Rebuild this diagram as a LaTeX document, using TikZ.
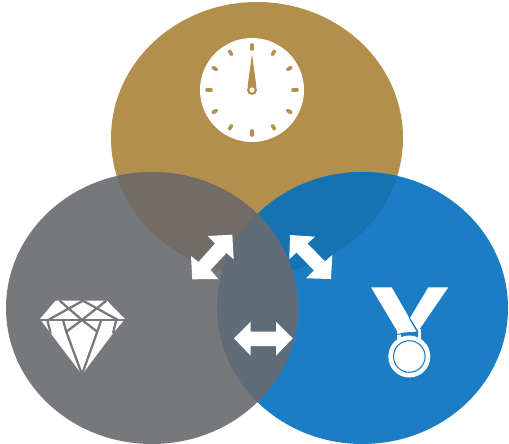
\documentclass[tikz,border=0pt]{standalone}
\usetikzlibrary{calc}
\definecolor{goldc}{HTML}{B38F4C}
\definecolor{grayc}{HTML}{77787B}
\definecolor{bluec}{HTML}{1B7DC4}
\definecolor{goldgray}{HTML}{726C66}
\definecolor{goldblue}{HTML}{1673B1}
\definecolor{grayblue}{HTML}{606C77}
\newcommand{\topc}{(257,138) ellipse [x radius=146,y radius=136]}
\newcommand{\leftc}{(152,308) ellipse [x radius=146,y radius=136]}
\newcommand{\rightc}{(362.5,308) ellipse [x radius=145.5,y radius=136]}
\tikzset{
  icon/.style={fill=white,draw=none},
  facet/.style={draw=grayc,line width=1.7pt,line cap=butt,line join=miter},
  tick/.style={draw=goldc,line width=2.7pt,line cap=round},
  bluerule/.style={draw=bluec,line width=0.8pt},
}
\begin{document}
\begin{tikzpicture}[x=0.75pt,y=-0.75pt]
\useasboundingbox (0,0) rectangle (509,443);
\fill[goldc] \topc;
\fill[bluec] \rightc;
\fill[grayc] \leftc;
\begin{scope}\clip \topc; \fill[goldgray] \leftc; \end{scope}
\begin{scope}\clip \topc; \fill[goldblue] \rightc; \end{scope}
\begin{scope}\clip \leftc; \fill[grayblue] \rightc; \end{scope}
% clock
\fill[icon] (252,90) circle [radius=52];
\foreach \a in {0,30,...,330}
  \draw[tick] ($(252,90)+(\a:41)$) -- ($(252,90)+(\a:45)$);
\fill[goldc] (252,54) -- (256.5,87) -- (247.5,87) -- cycle;
\fill[goldc] (252,90) circle [radius=5];
\fill[white] (252,90) circle [radius=2.6];
% double arrows
\fill[icon] (232.3,234.7) -- (233.7,259.3) -- (226.5,253) -- (210.5,270) -- (218.3,279) -- (192.3,279.3) -- (191,256) -- (198.5,262) -- (215,243.5) -- (207.7,236) -- cycle;
\fill[icon] (290,235) -- (315,236.7) -- (307.5,243.5) -- (325,261.5) -- (332.3,255) -- (331,279) -- (306,278.3) -- (314,270.5) -- (296.5,252.5) -- (289.3,259.3) -- cycle;
\fill[icon] (234,338.3) -- (250.7,321.7) -- (250.7,331.5) -- (276,331.5) -- (276,321.7) -- (292.7,338.3) -- (276,355.7) -- (276,346) -- (250.7,346) -- (250.7,355.7) -- cycle;
% diamond
\fill[icon] (55.5,300.7) -- (107,300.7) -- (125,319) -- (113,333.3) -- (82,374.5) -- (50.7,333.3) -- (40,319) -- cycle;
\draw[facet] (40,320) -- (125,320);
\draw[facet] (59.7,300.7) -- (82,320) -- (106.3,300.7);
\draw[facet] (48,320) -- (83,300.7) -- (118,320);
\draw[facet] (47.3,320) -- (50.7,333.3);
\draw[facet] (116.3,320) -- (113,333.3);
\draw[facet] (63,320) -- (66.3,331.7) -- (82,374.5) -- (97.3,331.7) -- (101.3,320);
\draw[facet] (66.3,331.7) -- (82,320) -- (97.3,331.7);
% medal
\fill[icon] (397.3,329) rectangle (400.7,340);
\fill[icon] (417.7,329) rectangle (421,340);
\fill[icon] (409.3,356.5) circle [radius=21];
\draw[bluerule] (409.3,356.5) circle [radius=15.8];
\fill[icon] (428.3,287.3) -- (448.3,287.3) -- (418.3,331) -- (410,318) -- cycle;
\fill[icon] (371,287.3) -- (391.7,287.3) -- (417,331.5) -- (398.3,333) -- cycle;
\draw[bluerule] (409.6,318.5) -- (417.8,332.5);
\draw[bluerule] (397,334.3) -- (418.5,332.5);
\end{tikzpicture}
\end{document}
